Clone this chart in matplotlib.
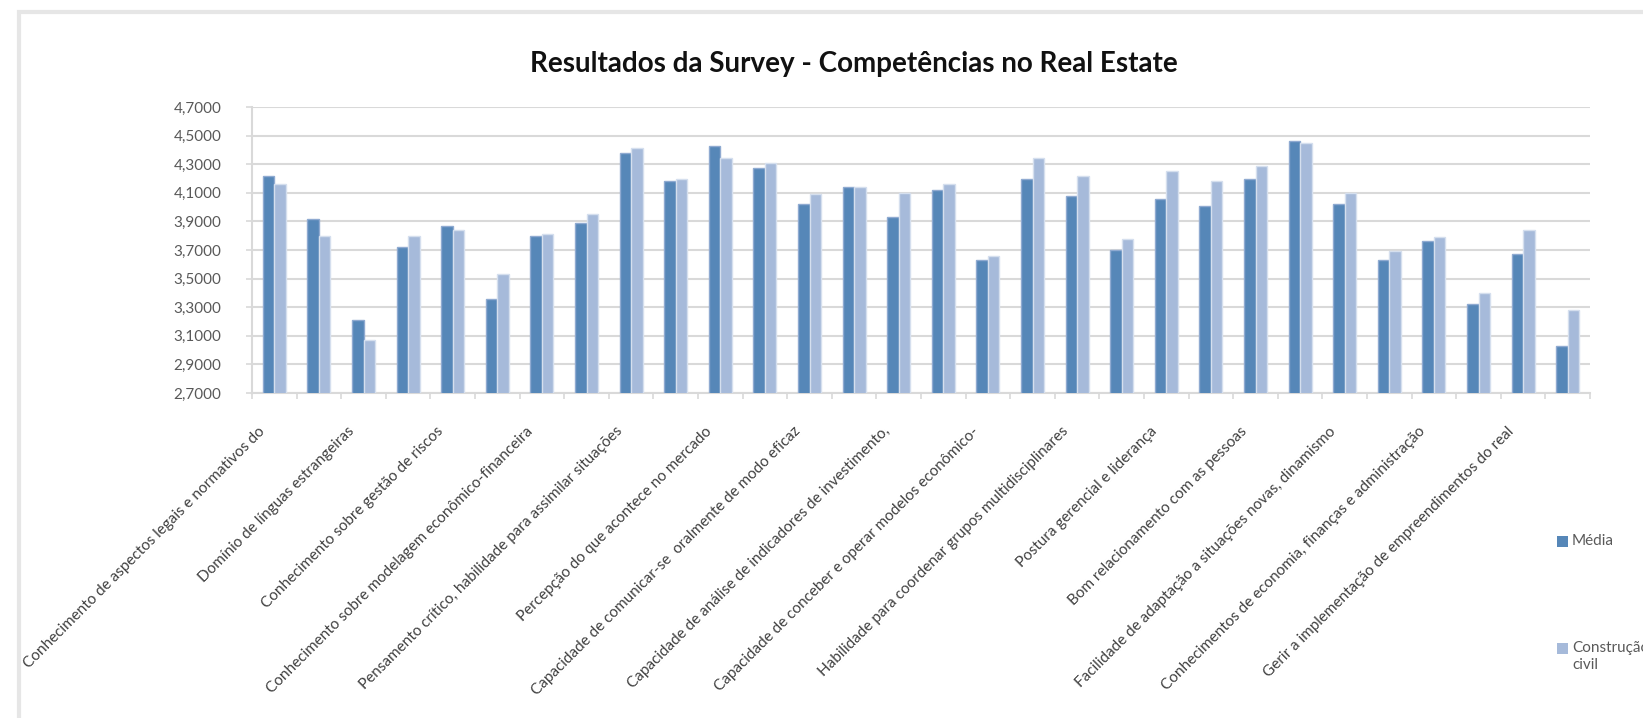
import numpy as np
import matplotlib
matplotlib.use("Agg")
import matplotlib.pyplot as plt
import matplotlib.transforms as mtransforms
from matplotlib.patches import Rectangle
from matplotlib.ticker import FuncFormatter, FixedLocator

plt.rcParams['font.family'] = ['Lato', 'DejaVu Sans']

# Competency scores, one pair per item (30 items)
media = [4.22, 3.92, 3.21, 3.72, 3.87, 3.36, 3.80, 3.89, 4.38, 4.18,
         4.43, 4.27, 4.02, 4.14, 3.93, 4.12, 3.63, 4.20, 4.08, 3.70,
         4.06, 4.01, 4.20, 4.46, 4.02, 3.63, 3.76, 3.32, 3.67, 3.03]
construcao_civil = [4.16, 3.80, 3.07, 3.80, 3.84, 3.53, 3.81, 3.95, 4.41, 4.20,
                    4.34, 4.31, 4.09, 4.14, 4.10, 4.16, 3.66, 4.34, 4.22, 3.78,
                    4.25, 4.18, 4.29, 4.45, 4.10, 3.69, 3.79, 3.40, 3.84, 3.28]

# only every second category gets a label on the axis
tick_labels = [
    "Conhecimento de aspectos legais e normativos do",
    "Domínio de línguas estrangeiras",
    "Conhecimento sobre gestão de riscos",
    "Conhecimento sobre modelagem econômico-financeira",
    "Pensamento crítico, habilidade para assimilar situações",
    "Percepção do que acontece no mercado",
    "Capacidade de comunicar-se  oralmente de modo eficaz",
    "Capacidade de análise de indicadores de investimento,",
    "Capacidade de conceber e operar modelos econômico-",
    "Habilidade para coordenar grupos multidisciplinares",
    "Postura gerencial e liderança",
    "Bom relacionamento com as pessoas",
    "Facilidade de adaptação a situações novas, dinamismo",
    "Conhecimentos de economia, finanças e administração",
    "Gerir a implementação de empreendimentos do real",
]
series_names = ["Média", "Construção\ncivil"]

W, H = 1643, 718
DARK = "#5687B8"
LIGHT = "#A6BADA"
GRID = "#D9D9D9"

fig = plt.figure(figsize=(W / 100, H / 100), dpi=100)
ax = fig.add_axes([252 / W, 1 - 393 / H, (1590 - 252) / W, (393 - 107) / H])

n = len(media)
x = np.arange(n)
bw = 0.26
ax.bar(x - bw / 2, media, bw, color=DARK, edgecolor="#8FAAD1", linewidth=1.0, zorder=3)
ax.bar(x + bw / 2, construcao_civil, bw, color=LIGHT, edgecolor="#D5DFEE", linewidth=1.0, zorder=3)

ax.set_xlim(-0.5, n - 0.5)
ax.set_ylim(2.7, 4.7)
ax.set_yticks(np.arange(2.7, 4.71, 0.2))
ax.yaxis.set_major_formatter(FuncFormatter(lambda v, p: f"{v:.4f}".replace(".", ",")))
ax.yaxis.grid(True, color=GRID, linewidth=1.5, zorder=0)
ax.set_axisbelow(True)

# labels under every other group, tick marks at group boundaries
ax.xaxis.set_major_locator(FixedLocator(x[::2]))
ax.set_xticklabels(tick_labels, rotation=45, ha="right", va="center",
                   rotation_mode="anchor", fontsize=11, color="#404040")
ax.xaxis.set_minor_locator(FixedLocator(np.arange(-0.5, n, 1.0)))
ax.tick_params(axis="x", which="major", length=0, pad=26)
ax.tick_params(axis="x", which="minor", length=4, color=GRID, width=1.2)
ax.tick_params(axis="y", length=4, color=GRID, width=1.2, labelsize=11,
               labelcolor="#595959", pad=18)

shift = mtransforms.ScaledTranslation(-8 / 72, 0, fig.dpi_scale_trans)
for lbl in ax.get_xticklabels():
    lbl.set_transform(lbl.get_transform() + shift)

for side in ("top", "right"):
    ax.spines[side].set_visible(False)
for side in ("left", "bottom"):
    ax.spines[side].set_color(GRID)
    ax.spines[side].set_linewidth(1.5)

fig.text(854 / W, 1 - 64 / H, "Resultados da Survey - Competências no Real Estate",
         ha="center", va="center", fontsize=20, fontweight="bold", color="#111111")

# legend on the right, entries spread out
for (yc, col, name) in [(541, DARK, series_names[0]), (648, LIGHT, series_names[1])]:
    fig.add_artist(Rectangle((1557 / W, 1 - (yc + 6) / H), 11 / W, 11 / H,
                             transform=fig.transFigure, facecolor=col, edgecolor="none"))
    fig.text(1572 / W, 1 - (yc - 7) / H, name, ha="left", va="top", fontsize=11,
             color="#595959", linespacing=1.3)

# chart frame
fig.add_artist(Rectangle((19 / W, -0.1), 1.2, 1.1 - 12 / H, transform=fig.transFigure,
                         facecolor="none", edgecolor="#E6E6E6", linewidth=3))

fig.savefig("out.png", dpi=100)
